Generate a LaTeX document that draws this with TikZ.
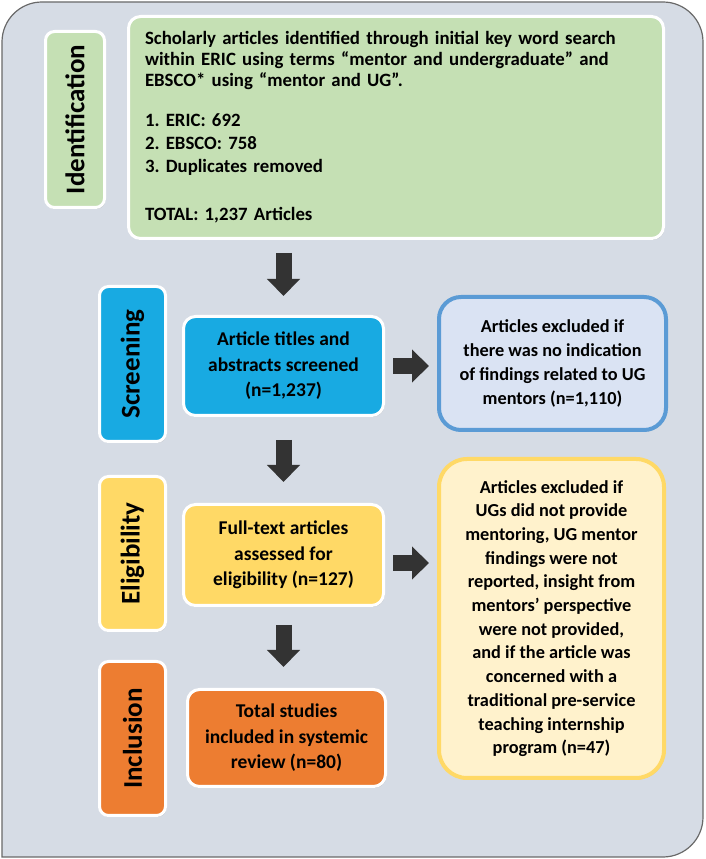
\documentclass[tikz,border=0pt]{standalone}
\usepackage{fontspec}
\setmainfont{Carlito}
\usetikzlibrary{arrows.meta,shadows,calc}
\frenchspacing

\definecolor{bg}{RGB}{214,220,229}
\definecolor{bgline}{RGB}{105,105,105}
\definecolor{idgreen}{RGB}{197,224,180}
\definecolor{scrblue}{RGB}{24,170,226}
\definecolor{ex1fill}{RGB}{218,227,243}
\definecolor{ex1line}{RGB}{91,155,213}
\definecolor{elyellow}{RGB}{255,217,102}
\definecolor{ex2fill}{RGB}{255,242,204}
\definecolor{incorange}{RGB}{237,125,49}
\definecolor{arrowgray}{RGB}{51,51,51}

\begin{document}
\begin{tikzpicture}[x=1pt,y=1pt,
  box/.style={rounded corners=12pt, draw=white, line width=3pt,
    drop shadow={shadow xshift=1pt, shadow yshift=-1.5pt, opacity=0.35},
    font=\bfseries\fontsize{19.5}{25.5}\selectfont, align=center, inner sep=0pt},
  stage/.style={box, rounded corners=9pt, font=\bfseries\fontsize{27}{30}\selectfont, rotate=90},
  excl/.style={box, rounded corners=22pt, line width=4pt, font=\bfseries\fontsize{18.3}{23.7}\selectfont},
  bigarrow/.style={draw=arrowgray, line width=16pt, -{Triangle[length=17pt,width=32pt]}}
]
\useasboundingbox (0,0) rectangle (706,859);
% background panel
\draw[fill=bg, draw=bgline, line width=1.2pt]
  (2,2) -- (2,817) arc[start angle=180,end angle=90,radius=40]
  -- (663,857) arc[start angle=90,end angle=0,radius=40]
  -- (703,42) arc[start angle=0,end angle=-90,radius=40] -- cycle;

% stage labels
\node[stage, fill=idgreen, minimum width=176, minimum height=59] (idlab) at (75,739.5) {Identification};
\node[stage, fill=scrblue, minimum width=155, minimum height=66] (scrlab) at (132.5,495) {Screening};
\node[stage, fill=elyellow, minimum width=154, minimum height=66] (ellab) at (132.5,305.5) {Eligibility};
\node[stage, fill=incorange, minimum width=154, minimum height=66] (inlab) at (132.5,120.5) {Inclusion};

% main boxes
\node[box, fill=idgreen, minimum width=535, minimum height=222, text width=502, align=left,
  font=\bfseries\fontsize{18.8}{21}\selectfont] (idbox) at (396,731.5)
  {Scholarly articles identified through initial key word search\\
   within ERIC using terms “mentor and undergraduate” and\\
   EBSCO* using “mentor and UG”.\\[19pt]
   1. ERIC: 692\\[2pt]
   2. EBSCO: 758\\[2pt]
   3. Duplicates removed\\[27pt]
   TOTAL: 1,237 Articles};
\node[box, fill=scrblue, minimum width=200, minimum height=99] (sbox) at (283.5,493)
  {Article titles and\\abstracts screened\\(n=1,237)};
\node[box, fill=elyellow, minimum width=200, minimum height=101] (ebox) at (283.5,304)
  {Full-text articles\\assessed for\\eligibility (n=127)};
\node[box, fill=incorange, minimum width=198, minimum height=97] (ibox) at (286.5,121)
  {Total studies\\included in systemic\\review (n=80)};

% exclusion boxes
\node[excl, fill=ex1fill, draw=ex1line, minimum width=227, minimum height=133] (ex1) at (552.5,495.5)
  {Articles excluded if\\there was no indication\\of findings related to UG\\mentors (n=1,110)};
\node[excl, fill=ex2fill, draw=elyellow, rounded corners=28pt, minimum width=225, minimum height=319] (ex2) at (551.5,240.5)
  {Articles excluded if\\UGs did not provide\\mentoring, UG mentor\\findings were not\\reported, insight from\\mentors’ perspective\\were not provided,\\and if the article was\\concerned with a\\traditional pre-service\\teaching internship\\program (n=47)};

% arrows
\draw[bigarrow, shorten <=13pt, shorten >=19pt] (sbox.north |- idbox.south) -- (sbox.north);
\draw[bigarrow, shorten <=23pt, shorten >=21pt] (sbox.south) -- (ebox.north);
\draw[bigarrow, shorten <=18pt, shorten >=21pt] (ebox.south) -- (ebox.south |- ibox.north);
\draw[bigarrow, shorten <=8pt, shorten >=8pt] (sbox.east) -- (sbox.east -| ex1.west);
\coordinate (r2) at ([yshift=-8pt]ebox.east);
\draw[bigarrow, shorten <=8pt, shorten >=8pt] (r2) -- (r2 -| ex2.west);
\end{tikzpicture}
\end{document}
